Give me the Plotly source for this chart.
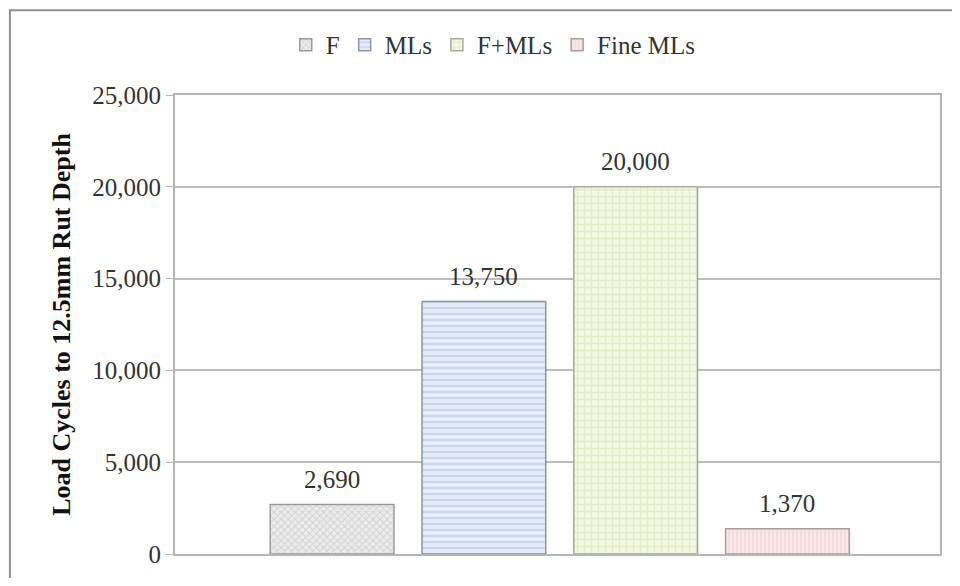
import plotly.graph_objects as go

series = ["F", "MLs", "F+MLs", "Fine MLs"]
values = [2690, 13750, 20000, 1370]
x_pos = [0, 1, 2, 3]
tick_vals = [0, 5000, 10000, 15000, 20000, 25000]
tick_text = ["0", "5,000", "10,000", "15,000", "20,000", "25,000"]
y_title = "Load Cycles to 12.5mm Rut Depth"

styles = [
    dict(shape="x", fg="#b5b5b5", bg="#ececec", size=5, line="#9a9a9a"),
    dict(shape="-", fg="#a3bbdc", bg="#e4ecf7", size=6, line="#8a96a6"),
    dict(shape="+", fg="#d0dfae", bg="#f4f8e4", size=7, line="#a5ab98"),
    dict(shape="|", fg="#eac4c4", bg="#fae8e8", size=4, line="#a89c9c"),
]

FONT = "Liberation Serif, Times New Roman, serif"
FS = 25

fig = go.Figure()
for name, v, xp, st in zip(series, values, x_pos, styles):
    fig.add_trace(go.Bar(
        x=[xp], y=[v], name=name, width=0.815,
        marker=dict(color=st["bg"],
                    line=dict(color=st["line"], width=1.5),
                    pattern=dict(shape=st["shape"], fgcolor=st["fg"],
                                 bgcolor=st["bg"], size=st["size"], solidity=0.35)),
        hoverinfo="skip",
    ))
    fig.add_annotation(x=xp, y=v, text=f"{v:,}", showarrow=False,
                       yshift=25, font=dict(family=FONT, size=FS, color="#333333"))

# outer chart frame
fig.add_shape(type="rect", xref="paper", yref="paper",
              x0=-0.2158, x1=1.03, y0=-0.1, y1=1.1845,
              line=dict(color="#8f8f8f", width=2), layer="below")

fig.update_layout(
    width=944, height=570,
    margin=dict(l=167, r=10, t=87, b=17),
    paper_bgcolor="white", plot_bgcolor="white",
    barmode="overlay",
    font=dict(family=FONT, size=FS, color="#333333"),
    showlegend=True,
    legend=dict(orientation="h", x=0.416, xanchor="center", y=1.109, yanchor="middle",
                font=dict(family=FONT, size=FS, color="#333333"),
                itemwidth=30, tracegroupgap=0, itemclick=False),
    xaxis=dict(range=[-1.035, 4.005], showticklabels=False, showgrid=False,
               zeroline=False, showline=True, linecolor="#b5b5b5", linewidth=2,
               mirror=True, ticks=""),
    yaxis=dict(range=[0, 25000], tickvals=tick_vals, ticktext=tick_text,
               showgrid=True, gridcolor="#bdbdbd", gridwidth=2,
               zeroline=False, showline=True, linecolor="#b5b5b5", linewidth=2,
               mirror=True, ticks="outside", ticklen=7, tickcolor="#b5b5b5",
               tickwidth=1,
               tickfont=dict(family=FONT, size=FS, color="#333333"),
               title=dict(text="<b>" + y_title + "</b>", standoff=14,
                          font=dict(family=FONT, size=26, color="#111111"))),
)

fig.write_html("out.html")
